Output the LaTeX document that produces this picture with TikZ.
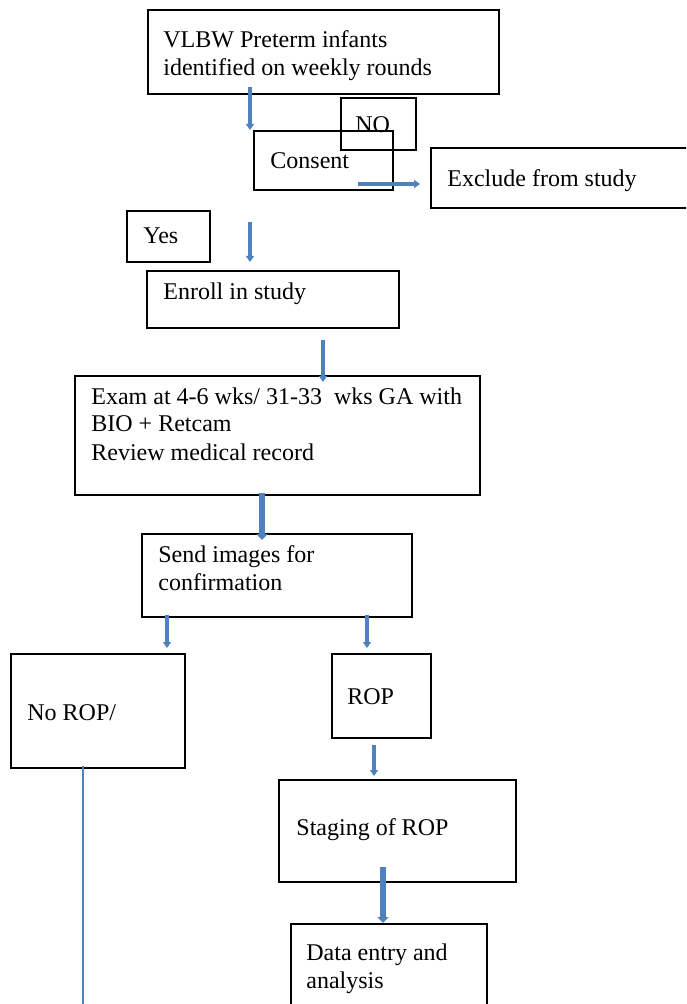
\documentclass[tikz,border=0pt]{standalone}
\usepackage{fontspec}
\setmainfont{Liberation Serif}
\usetikzlibrary{arrows.meta}
\definecolor{arrowblue}{RGB}{79,129,189}
\begin{document}
\begin{tikzpicture}
		[x=0.5pt,y=-0.5pt,font=\fontsize{12pt}{14pt}\selectfont,
		box/.style={rectangle,draw,line width=0.75pt,anchor=north west,inner sep=0pt,outer sep=0pt},
		txt/.style={anchor=base west,align=left,inner sep=0pt},
		arr/.style={draw=arrowblue,line width=2pt,-{Triangle[width=4pt,length=3pt]}},
		bigarr/.style={arr,line width=3pt,-{Triangle[width=5.5pt,length=3pt]}}]
		\clip (0,0) rectangle (686,1004);
		\node (Vlbw) [box,minimum width=175.5pt,minimum height=42pt] at (148,10) {};
		\node (No) [box,minimum width=37.5pt,minimum height=26pt] at (341,98) {};
		\node (Consent) [box,minimum width=69.5pt,minimum height=29.5pt] at (254,131) {};
		\node (Exclude) [box,minimum width=131pt,minimum height=30pt] at (431,148) {};
		\node (Yes) [box,minimum width=41.5pt,minimum height=25.5pt] at (127,211) {};
		\node (Enroll) [box,minimum width=126pt,minimum height=28.5pt] at (147,271) {};
		\node (Exam) [box,minimum width=202.5pt,minimum height=59.5pt] at (75,376) {};
		\node (Send) [box,minimum width=135pt,minimum height=41.5pt] at (142,534) {};
		\node (NoRop) [box,minimum width=87pt,minimum height=57pt] at (11,654) {};
		\node (Rop) [box,minimum width=49.5pt,minimum height=42pt] at (332,654) {};
		\node (Staging) [box,minimum width=118.5pt,minimum height=51pt] at (279,780) {};
		\node (Data) [box,minimum width=98pt,minimum height=48pt] at (291,924) {};
		% texts (base of the last line)
		\node (VlbwText) [txt] at (163,76) {VLBW Preterm infants\\identified on weekly rounds};
		\node (NoText) [txt] at (355,133) {NO};
		\node (ConsentText) [txt] at (270,169) {Consent};
		\node (ExcludeText) [txt] at (447,187) {Exclude from study};
		\node (YesText) [txt] at (143,244) {Yes};
		\node (EnrollText) [txt] at (163,300) {Enroll in study};
		\node (ExamText) [txt] at (91,460) {Exam at 4-6 wks/ 31-33 \ wks GA with\\BIO + Retcam\\Review medical record};
		\node (SendText) [txt] at (158,590) {Send images for\\confirmation};
		\node (NoRopText) [txt] at (27,720) {No ROP/};
		\node (RopText) [txt] at (347,704) {ROP};
		\node (StagingText) [txt] at (296,835) {Staging of ROP};
		\node (DataText) [txt] at (306,988) {Data entry and\\analysis};
		\coordinate (LineEnd) at (83,1010);
		% arrows
		\draw[arr] ([shift={(102,-7)}]Vlbw.south west) -- ([shift={(-4,-1)}]Consent.north west);
		\draw[arr] ([shift={(-4,32)}]Consent.south west) -- ([shift={(103,-9)}]Enroll.north west);
		\draw[arr] ([shift={(-35,-6)}]Consent.south east) -- ([shift={(-11,36)}]Exclude.north west);
		\draw[arr] ([shift={(176,12)}]Enroll.south west) -- ([shift={(248,6)}]Exam.north west);
		\draw[bigarr] ([shift={(187,-2)}]Exam.south west) -- ([shift={(120,6)}]Send.north west);
		\draw[arr] ([shift={(25,-2)}]Send.south west) -- ([shift={(156,-6)}]NoRop.north west);
		\draw[arr] ([shift={(225,-2)}]Send.south west) -- ([shift={(35,-6)}]Rop.north west);
		\draw[arr] ([shift={(42,7)}]Rop.south west) -- ([shift={(95,-4)}]Staging.north west);
		\draw[bigarr] ([shift={(104,-15)}]Staging.south west) -- ([shift={(92,-1)}]Data.north west);
		\draw[arrowblue,line width=1pt] ([shift={(72,-2)}]NoRop.south west) -- (LineEnd);
	\end{tikzpicture}
\end{document}
